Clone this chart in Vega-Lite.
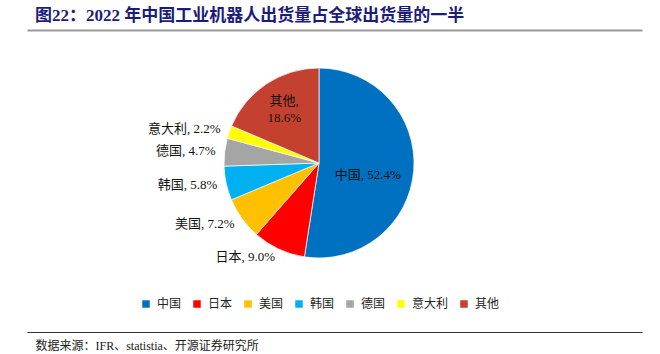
{
  "$schema": "https://vega.github.io/schema/vega-lite/v6.json",
  "autosize": {"type": "none"},
  "width": 584,
  "height": 266,
  "padding": {"left": 27, "top": 30, "right": 49, "bottom": 58},
  "background": "white",
  "title": {
    "text": "图22：2022 年中国工业机器人出货量占全球出货量的一半",
    "anchor": "start",
    "frame": "group",
    "dx": 8,
    "offset": 5,
    "font": "Liberation Serif, Noto Sans CJK SC",
    "fontSize": 17,
    "fontWeight": "bold",
    "color": "#1C1C7C"
  },
  "data": {
    "values": [
      {"country": "中国", "share": 52.4, "label": "中国, 52.4%"},
      {"country": "日本", "share": 9.0, "label": "日本, 9.0%"},
      {"country": "美国", "share": 7.2, "label": "美国, 7.2%"},
      {"country": "韩国", "share": 5.8, "label": "韩国, 5.8%"},
      {"country": "德国", "share": 4.7, "label": "德国, 4.7%"},
      {"country": "意大利", "share": 2.2, "label": "意大利, 2.2%"},
      {"country": "其他", "share": 18.6, "label": "其他,\n18.6%"}
    ]
  },
  "transform": [{"window": [{"op": "row_number", "as": "idx"}]}],
  "layer": [
    {
      "mark": {"type": "arc", "outerRadius": 95, "stroke": "white", "strokeWidth": 0.7},
      "encoding": {
        "theta": {"field": "share", "type": "quantitative", "stack": true},
        "order": {"field": "idx", "type": "quantitative"},
        "color": {
          "field": "country",
          "type": "nominal",
          "sort": null,
          "scale": {
            "domain": ["中国", "日本", "美国", "韩国", "德国", "意大利", "其他"],
            "range": ["#0070C0", "#FF0000", "#FFC000", "#00B0F0", "#A5A5A5", "#FFFF00", "#C5412F"]
          },
          "legend": {
            "orient": "none",
            "direction": "horizontal",
            "legendX": 113,
            "legendY": 268,
            "title": null,
            "padding": 0,
            "symbolType": "square",
            "symbolSize": 56,
            "symbolStrokeWidth": 0,
            "labelFont": "Liberation Serif, Noto Sans CJK SC",
            "labelFontSize": 12,
            "labelColor": "#222222",
            "labelOffset": 5,
            "columnPadding": 9
          }
        }
      }
    },
    {
      "mark": {"type": "text", "radius": 104, "align": "right", "baseline": "middle", "font": "Liberation Serif, Noto Sans CJK SC", "fontSize": 13, "color": "#111111"},
      "encoding": {
        "theta": {"field": "share", "type": "quantitative", "stack": true},
        "order": {"field": "idx", "type": "quantitative"},
        "text": {"condition": {"test": "datum.country !== '中国' && datum.country !== '其他'", "field": "label"}, "value": ""}
      }
    },
    {
      "mark": {"type": "text", "radius": 49, "dy": 8, "align": "center", "baseline": "middle", "font": "Liberation Serif, Noto Sans CJK SC", "fontSize": 13, "color": "#111111"},
      "encoding": {
        "theta": {"field": "share", "type": "quantitative", "stack": true},
        "order": {"field": "idx", "type": "quantitative"},
        "text": {"condition": {"test": "datum.country === '中国'", "field": "label"}, "value": ""}
      }
    },
    {
      "mark": {"type": "text", "radius": 63, "dy": -9, "align": "center", "baseline": "middle", "lineBreak": "\n", "lineHeight": 17, "font": "Liberation Serif, Noto Sans CJK SC", "fontSize": 13, "color": "#111111"},
      "encoding": {
        "theta": {"field": "share", "type": "quantitative", "stack": true},
        "order": {"field": "idx", "type": "quantitative"},
        "text": {"condition": {"test": "datum.country === '其他'", "field": "label"}, "value": ""}
      }
    },
    {
      "mark": {"type": "rule", "opacity": 0},
      "encoding": {
        "x": {
          "datum": 0,
          "type": "quantitative",
          "scale": {"domain": [0, 1], "range": [0, 615]},
          "axis": {"orient": "top", "domain": true, "domainColor": "#9A9A9A", "domainWidth": 2, "ticks": false, "labels": false, "grid": false, "title": null}
        }
      }
    },
    {
      "mark": {"type": "rule", "opacity": 0},
      "encoding": {
        "x": {
          "datum": 0,
          "type": "quantitative",
          "scale": {"domain": [0, 1], "range": [0, 615]},
          "axis": {
            "orient": "bottom",
            "offset": 36,
            "domain": true,
            "domainColor": "#333333",
            "domainWidth": 1,
            "ticks": false,
            "labels": false,
            "grid": false,
            "title": "数据来源：IFR、statistia、开源证券研究所",
            "titleAnchor": "start",
            "titleAlign": "left",
            "titleBaseline": "middle",
            "titleX": 8,
            "titleY": 13,
            "titleFont": "Liberation Serif, Noto Sans CJK SC",
            "titleFontSize": 12,
            "titleFontWeight": "normal",
            "titleColor": "#222222"
          }
        }
      }
    }
  ],
  "resolve": {"scale": {"x": "independent"}, "axis": {"x": "independent"}},
  "config": {"view": {"stroke": null}}
}
